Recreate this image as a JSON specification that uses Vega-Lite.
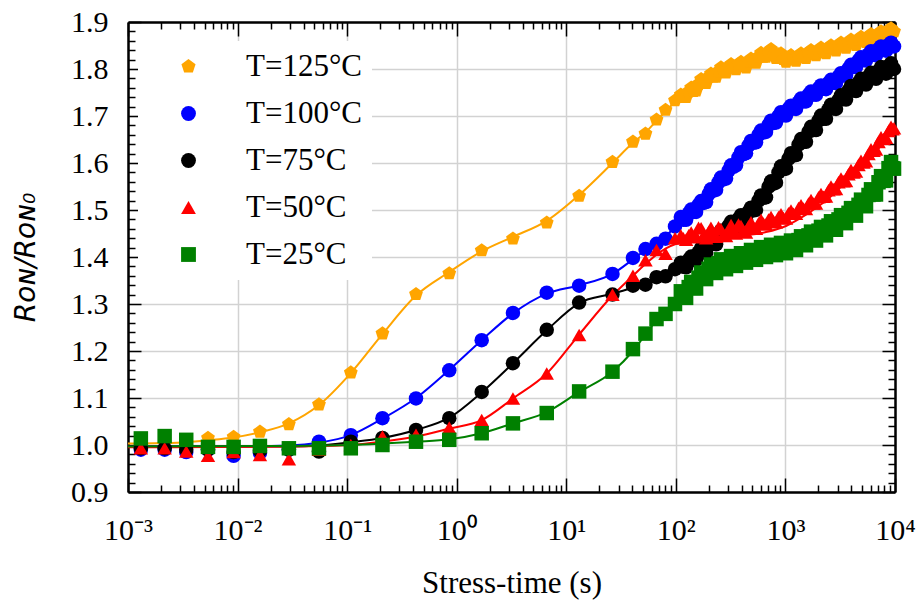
{
  "$schema": "https://vega.github.io/schema/vega-lite/v6.json",
  "autosize": "none",
  "width": 767,
  "height": 470,
  "padding": {"left": 128, "top": 22, "right": 27, "bottom": 111},
  "background": "white",
  "config": {"view": {"stroke": null}},
  "datasets": {
    "fits": [
      {"series":"T=125°C","time":0.001,"ratio":1.003},{"series":"T=125°C","time":0.002,"ratio":1.004},{"series":"T=125°C","time":0.0034,"ratio":1.006},{"series":"T=125°C","time":0.00537,"ratio":1.01},{"series":"T=125°C","time":0.0092,"ratio":1.016},{"series":"T=125°C","time":0.016,"ratio":1.027},{"series":"T=125°C","time":0.0294,"ratio":1.046},{"series":"T=125°C","time":0.0553,"ratio":1.085},{"series":"T=125°C","time":0.108,"ratio":1.153},{"series":"T=125°C","time":0.21,"ratio":1.236},{"series":"T=125°C","time":0.425,"ratio":1.318},{"series":"T=125°C","time":0.855,"ratio":1.368},{"series":"T=125°C","time":1.69,"ratio":1.412},{"series":"T=125°C","time":3.26,"ratio":1.443},{"series":"T=125°C","time":6.63,"ratio":1.477},{"series":"T=125°C","time":13.1,"ratio":1.532},{"series":"T=125°C","time":26.4,"ratio":1.6},{"series":"T=125°C","time":40.6,"ratio":1.643},{"series":"T=125°C","time":52.8,"ratio":1.665},{"series":"T=125°C","time":66.6,"ratio":1.69},{"series":"T=125°C","time":80.5,"ratio":1.71},{"series":"T=125°C","time":98.2,"ratio":1.73},{"series":"T=125°C","time":124,"ratio":1.745},{"series":"T=125°C","time":188,"ratio":1.775},{"series":"T=125°C","time":287,"ratio":1.797},{"series":"T=125°C","time":437,"ratio":1.81},{"series":"T=125°C","time":665,"ratio":1.822},{"series":"T=125°C","time":1012,"ratio":1.826},{"series":"T=125°C","time":1541,"ratio":1.832},{"series":"T=125°C","time":2346,"ratio":1.843},{"series":"T=125°C","time":3572,"ratio":1.855},{"series":"T=125°C","time":5438,"ratio":1.866},{"series":"T=125°C","time":8279,"ratio":1.877},{"series":"T=125°C","time":10000,"ratio":1.882},
      {"series":"T=100°C","time":0.001,"ratio":0.997},{"series":"T=100°C","time":0.0092,"ratio":0.997},{"series":"T=100°C","time":0.0294,"ratio":0.999},{"series":"T=100°C","time":0.0553,"ratio":1.005},{"series":"T=100°C","time":0.108,"ratio":1.021},{"series":"T=100°C","time":0.21,"ratio":1.056},{"series":"T=100°C","time":0.425,"ratio":1.1},{"series":"T=100°C","time":0.855,"ratio":1.16},{"series":"T=100°C","time":1.69,"ratio":1.223},{"series":"T=100°C","time":3.26,"ratio":1.28},{"series":"T=100°C","time":6.63,"ratio":1.322},{"series":"T=100°C","time":13.1,"ratio":1.34},{"series":"T=100°C","time":26.4,"ratio":1.364},{"series":"T=100°C","time":40.6,"ratio":1.395},{"series":"T=100°C","time":52.8,"ratio":1.415},{"series":"T=100°C","time":66.6,"ratio":1.43},{"series":"T=100°C","time":80.5,"ratio":1.445},{"series":"T=100°C","time":98.2,"ratio":1.462},{"series":"T=100°C","time":124,"ratio":1.485},{"series":"T=100°C","time":188,"ratio":1.52},{"series":"T=100°C","time":287,"ratio":1.57},{"series":"T=100°C","time":437,"ratio":1.625},{"series":"T=100°C","time":665,"ratio":1.672},{"series":"T=100°C","time":1012,"ratio":1.705},{"series":"T=100°C","time":1541,"ratio":1.737},{"series":"T=100°C","time":2346,"ratio":1.765},{"series":"T=100°C","time":3572,"ratio":1.79},{"series":"T=100°C","time":5438,"ratio":1.82},{"series":"T=100°C","time":8279,"ratio":1.845},{"series":"T=100°C","time":10000,"ratio":1.852},
      {"series":"T=75°C","time":0.001,"ratio":0.997},{"series":"T=75°C","time":0.0294,"ratio":0.997},{"series":"T=75°C","time":0.0553,"ratio":0.999},{"series":"T=75°C","time":0.108,"ratio":1.006},{"series":"T=75°C","time":0.21,"ratio":1.015},{"series":"T=75°C","time":0.425,"ratio":1.032},{"series":"T=75°C","time":0.855,"ratio":1.058},{"series":"T=75°C","time":1.69,"ratio":1.112},{"series":"T=75°C","time":3.26,"ratio":1.174},{"series":"T=75°C","time":6.63,"ratio":1.244},{"series":"T=75°C","time":13.1,"ratio":1.302},{"series":"T=75°C","time":26.4,"ratio":1.322},{"series":"T=75°C","time":40.6,"ratio":1.335},{"series":"T=75°C","time":52.8,"ratio":1.345},{"series":"T=75°C","time":66.6,"ratio":1.355},{"series":"T=75°C","time":80.5,"ratio":1.362},{"series":"T=75°C","time":98.2,"ratio":1.37},{"series":"T=75°C","time":124,"ratio":1.385},{"series":"T=75°C","time":188,"ratio":1.415},{"series":"T=75°C","time":287,"ratio":1.455},{"series":"T=75°C","time":437,"ratio":1.49},{"series":"T=75°C","time":665,"ratio":1.537},{"series":"T=75°C","time":1012,"ratio":1.598},{"series":"T=75°C","time":1541,"ratio":1.655},{"series":"T=75°C","time":2346,"ratio":1.704},{"series":"T=75°C","time":3572,"ratio":1.745},{"series":"T=75°C","time":5438,"ratio":1.777},{"series":"T=75°C","time":8279,"ratio":1.8},{"series":"T=75°C","time":10000,"ratio":1.807},
      {"series":"T=50°C","time":0.001,"ratio":0.995},{"series":"T=50°C","time":0.0294,"ratio":0.997},{"series":"T=50°C","time":0.108,"ratio":1.0},{"series":"T=50°C","time":0.21,"ratio":1.007},{"series":"T=50°C","time":0.425,"ratio":1.018},{"series":"T=50°C","time":0.855,"ratio":1.035},{"series":"T=50°C","time":1.69,"ratio":1.053},{"series":"T=50°C","time":3.26,"ratio":1.099},{"series":"T=50°C","time":6.63,"ratio":1.152},{"series":"T=50°C","time":13.1,"ratio":1.235},{"series":"T=50°C","time":26.4,"ratio":1.318},{"series":"T=50°C","time":40.6,"ratio":1.36},{"series":"T=50°C","time":52.8,"ratio":1.385},{"series":"T=50°C","time":66.6,"ratio":1.405},{"series":"T=50°C","time":80.5,"ratio":1.418},{"series":"T=50°C","time":98.2,"ratio":1.427},{"series":"T=50°C","time":124,"ratio":1.433},{"series":"T=50°C","time":188,"ratio":1.438},{"series":"T=50°C","time":287,"ratio":1.442},{"series":"T=50°C","time":437,"ratio":1.446},{"series":"T=50°C","time":665,"ratio":1.453},{"series":"T=50°C","time":1012,"ratio":1.466},{"series":"T=50°C","time":1541,"ratio":1.49},{"series":"T=50°C","time":2346,"ratio":1.52},{"series":"T=50°C","time":3572,"ratio":1.56},{"series":"T=50°C","time":5438,"ratio":1.6},{"series":"T=50°C","time":8279,"ratio":1.65},{"series":"T=50°C","time":10000,"ratio":1.675},
      {"series":"T=25°C","time":0.001,"ratio":0.997},{"series":"T=25°C","time":0.0294,"ratio":0.998},{"series":"T=25°C","time":0.108,"ratio":1.0},{"series":"T=25°C","time":0.21,"ratio":1.003},{"series":"T=25°C","time":0.425,"ratio":1.007},{"series":"T=25°C","time":0.855,"ratio":1.012},{"series":"T=25°C","time":1.69,"ratio":1.025},{"series":"T=25°C","time":3.26,"ratio":1.046},{"series":"T=25°C","time":6.63,"ratio":1.07},{"series":"T=25°C","time":13.1,"ratio":1.113},{"series":"T=25°C","time":26.4,"ratio":1.156},{"series":"T=25°C","time":40.6,"ratio":1.2},{"series":"T=25°C","time":52.8,"ratio":1.235},{"series":"T=25°C","time":66.6,"ratio":1.265},{"series":"T=25°C","time":80.5,"ratio":1.285},{"series":"T=25°C","time":98.2,"ratio":1.305},{"series":"T=25°C","time":124,"ratio":1.33},{"series":"T=25°C","time":188,"ratio":1.36},{"series":"T=25°C","time":287,"ratio":1.385},{"series":"T=25°C","time":437,"ratio":1.4},{"series":"T=25°C","time":665,"ratio":1.412},{"series":"T=25°C","time":1012,"ratio":1.42},{"series":"T=25°C","time":1541,"ratio":1.44},{"series":"T=25°C","time":2346,"ratio":1.455},{"series":"T=25°C","time":3572,"ratio":1.48},{"series":"T=25°C","time":5438,"ratio":1.51},{"series":"T=25°C","time":8279,"ratio":1.56},{"series":"T=25°C","time":10000,"ratio":1.59}
    ],
    "markers": [
      {"series":"T=125°C","time":0.00537,"ratio":1.015},{"series":"T=125°C","time":0.0092,"ratio":1.017},{"series":"T=125°C","time":0.016,"ratio":1.028},{"series":"T=125°C","time":0.0294,"ratio":1.044},{"series":"T=125°C","time":0.0553,"ratio":1.086},{"series":"T=125°C","time":0.108,"ratio":1.154},{"series":"T=125°C","time":0.21,"ratio":1.237},{"series":"T=125°C","time":0.425,"ratio":1.321},{"series":"T=125°C","time":0.855,"ratio":1.365},{"series":"T=125°C","time":1.69,"ratio":1.414},{"series":"T=125°C","time":3.26,"ratio":1.439},{"series":"T=125°C","time":6.63,"ratio":1.473},{"series":"T=125°C","time":13.1,"ratio":1.53},{"series":"T=125°C","time":26.4,"ratio":1.602},{"series":"T=125°C","time":40.6,"ratio":1.645},{"series":"T=125°C","time":52.8,"ratio":1.662},{"series":"T=125°C","time":66.6,"ratio":1.692},{"series":"T=125°C","time":80.5,"ratio":1.713},{"series":"T=125°C","time":98.2,"ratio":1.733},
      {"series":"T=125°C","time":111,"ratio":1.745},{"series":"T=125°C","time":124,"ratio":1.74},{"series":"T=125°C","time":138,"ratio":1.76},{"series":"T=125°C","time":153,"ratio":1.754},{"series":"T=125°C","time":170,"ratio":1.778},{"series":"T=125°C","time":189,"ratio":1.77},{"series":"T=125°C","time":209,"ratio":1.79},{"series":"T=125°C","time":233,"ratio":1.783},{"series":"T=125°C","time":258,"ratio":1.803},{"series":"T=125°C","time":287,"ratio":1.792},{"series":"T=125°C","time":319,"ratio":1.81},{"series":"T=125°C","time":354,"ratio":1.799},{"series":"T=125°C","time":393,"ratio":1.815},{"series":"T=125°C","time":437,"ratio":1.803},{"series":"T=125°C","time":485,"ratio":1.822},{"series":"T=125°C","time":539,"ratio":1.813},{"series":"T=125°C","time":599,"ratio":1.834},{"series":"T=125°C","time":665,"ratio":1.826},{"series":"T=125°C","time":739,"ratio":1.842},{"series":"T=125°C","time":820,"ratio":1.823},{"series":"T=125°C","time":911,"ratio":1.833},{"series":"T=125°C","time":1012,"ratio":1.815},{"series":"T=125°C","time":1124,"ratio":1.829},{"series":"T=125°C","time":1249,"ratio":1.817},{"series":"T=125°C","time":1388,"ratio":1.833},{"series":"T=125°C","time":1541,"ratio":1.823},{"series":"T=125°C","time":1712,"ratio":1.84},{"series":"T=125°C","time":1902,"ratio":1.829},{"series":"T=125°C","time":2112,"ratio":1.845},{"series":"T=125°C","time":2346,"ratio":1.833},{"series":"T=125°C","time":2606,"ratio":1.85},{"series":"T=125°C","time":2895,"ratio":1.839},{"series":"T=125°C","time":3216,"ratio":1.856},{"series":"T=125°C","time":3572,"ratio":1.845},{"series":"T=125°C","time":3967,"ratio":1.862},{"series":"T=125°C","time":4407,"ratio":1.851},{"series":"T=125°C","time":4895,"ratio":1.868},{"series":"T=125°C","time":5438,"ratio":1.857},{"series":"T=125°C","time":6040,"ratio":1.874},{"series":"T=125°C","time":6709,"ratio":1.863},{"series":"T=125°C","time":7455,"ratio":1.88},{"series":"T=125°C","time":8279,"ratio":1.871},{"series":"T=125°C","time":9200,"ratio":1.886},{"series":"T=125°C","time":9800,"ratio":1.88},
      {"series":"T=125°C","time":117,"ratio":1.74},{"series":"T=125°C","time":131,"ratio":1.752},{"series":"T=125°C","time":145,"ratio":1.753},{"series":"T=125°C","time":161,"ratio":1.768},{"series":"T=125°C","time":179,"ratio":1.771},{"series":"T=125°C","time":199,"ratio":1.783},{"series":"T=125°C","time":221,"ratio":1.784},{"series":"T=125°C","time":245,"ratio":1.795},{"series":"T=125°C","time":272,"ratio":1.795},{"series":"T=125°C","time":303,"ratio":1.805},{"series":"T=125°C","time":336,"ratio":1.802},{"series":"T=125°C","time":373,"ratio":1.81},{"series":"T=125°C","time":414,"ratio":1.806},{"series":"T=125°C","time":460,"ratio":1.816},{"series":"T=125°C","time":511,"ratio":1.815},{"series":"T=125°C","time":568,"ratio":1.826},{"series":"T=125°C","time":631,"ratio":1.826},{"series":"T=125°C","time":701,"ratio":1.837},{"series":"T=125°C","time":778,"ratio":1.83},{"series":"T=125°C","time":864,"ratio":1.831},{"series":"T=125°C","time":960,"ratio":1.821},{"series":"T=125°C","time":1066,"ratio":1.825},{"series":"T=125°C","time":1185,"ratio":1.82},{"series":"T=125°C","time":1317,"ratio":1.828},{"series":"T=125°C","time":1462,"ratio":1.825},{"series":"T=125°C","time":1624,"ratio":1.835},{"series":"T=125°C","time":1805,"ratio":1.832},{"series":"T=125°C","time":2004,"ratio":1.84},{"series":"T=125°C","time":2226,"ratio":1.836},{"series":"T=125°C","time":2473,"ratio":1.845},{"series":"T=125°C","time":2747,"ratio":1.842},{"series":"T=125°C","time":3051,"ratio":1.851},{"series":"T=125°C","time":3390,"ratio":1.848},{"series":"T=125°C","time":3764,"ratio":1.857},{"series":"T=125°C","time":4181,"ratio":1.854},{"series":"T=125°C","time":4645,"ratio":1.863},{"series":"T=125°C","time":5159,"ratio":1.86},{"series":"T=125°C","time":5731,"ratio":1.869},{"series":"T=125°C","time":6366,"ratio":1.866},{"series":"T=125°C","time":7072,"ratio":1.875},{"series":"T=125°C","time":7856,"ratio":1.873},{"series":"T=125°C","time":8727,"ratio":1.883},{"series":"T=125°C","time":9495,"ratio":1.88},
      {"series":"T=100°C","time":0.00131,"ratio":0.99},{"series":"T=100°C","time":0.00216,"ratio":0.99},{"series":"T=100°C","time":0.0034,"ratio":0.985},{"series":"T=100°C","time":0.00537,"ratio":0.99},{"series":"T=100°C","time":0.0092,"ratio":0.977},{"series":"T=100°C","time":0.016,"ratio":0.983},{"series":"T=100°C","time":0.0294,"ratio":0.99},{"series":"T=100°C","time":0.0553,"ratio":1.007},{"series":"T=100°C","time":0.108,"ratio":1.021},{"series":"T=100°C","time":0.21,"ratio":1.057},{"series":"T=100°C","time":0.425,"ratio":1.099},{"series":"T=100°C","time":0.855,"ratio":1.159},{"series":"T=100°C","time":1.69,"ratio":1.223},{"series":"T=100°C","time":3.26,"ratio":1.281},{"series":"T=100°C","time":6.63,"ratio":1.324},{"series":"T=100°C","time":13.1,"ratio":1.339},{"series":"T=100°C","time":26.4,"ratio":1.364},{"series":"T=100°C","time":40.6,"ratio":1.398},{"series":"T=100°C","time":52.8,"ratio":1.417},{"series":"T=100°C","time":66.6,"ratio":1.428},{"series":"T=100°C","time":80.5,"ratio":1.439},{"series":"T=100°C","time":98.2,"ratio":1.465},
      {"series":"T=100°C","time":111,"ratio":1.485},{"series":"T=100°C","time":124,"ratio":1.479},{"series":"T=100°C","time":138,"ratio":1.501},{"series":"T=100°C","time":153,"ratio":1.496},{"series":"T=100°C","time":170,"ratio":1.519},{"series":"T=100°C","time":189,"ratio":1.517},{"series":"T=100°C","time":209,"ratio":1.544},{"series":"T=100°C","time":233,"ratio":1.543},{"series":"T=100°C","time":258,"ratio":1.569},{"series":"T=100°C","time":287,"ratio":1.567},{"series":"T=100°C","time":319,"ratio":1.595},{"series":"T=100°C","time":354,"ratio":1.595},{"series":"T=100°C","time":393,"ratio":1.623},{"series":"T=100°C","time":437,"ratio":1.621},{"series":"T=100°C","time":485,"ratio":1.647},{"series":"T=100°C","time":539,"ratio":1.644},{"series":"T=100°C","time":599,"ratio":1.669},{"series":"T=100°C","time":665,"ratio":1.666},{"series":"T=100°C","time":739,"ratio":1.69},{"series":"T=100°C","time":820,"ratio":1.686},{"series":"T=100°C","time":911,"ratio":1.708},{"series":"T=100°C","time":1012,"ratio":1.701},{"series":"T=100°C","time":1124,"ratio":1.722},{"series":"T=100°C","time":1249,"ratio":1.715},{"series":"T=100°C","time":1388,"ratio":1.737},{"series":"T=100°C","time":1541,"ratio":1.731},{"series":"T=100°C","time":1712,"ratio":1.752},{"series":"T=100°C","time":1902,"ratio":1.745},{"series":"T=100°C","time":2112,"ratio":1.765},{"series":"T=100°C","time":2346,"ratio":1.757},{"series":"T=100°C","time":2606,"ratio":1.777},{"series":"T=100°C","time":2895,"ratio":1.77},{"series":"T=100°C","time":3216,"ratio":1.791},{"series":"T=100°C","time":3572,"ratio":1.786},{"series":"T=100°C","time":3967,"ratio":1.809},{"series":"T=100°C","time":4407,"ratio":1.804},{"series":"T=100°C","time":4895,"ratio":1.825},{"series":"T=100°C","time":5438,"ratio":1.818},{"series":"T=100°C","time":6040,"ratio":1.838},{"series":"T=100°C","time":6709,"ratio":1.829},{"series":"T=100°C","time":7455,"ratio":1.848},{"series":"T=100°C","time":8279,"ratio":1.839},{"series":"T=100°C","time":9200,"ratio":1.856},{"series":"T=100°C","time":9800,"ratio":1.848},
      {"series":"T=100°C","time":117,"ratio":1.479},{"series":"T=100°C","time":131,"ratio":1.493},{"series":"T=100°C","time":145,"ratio":1.496},{"series":"T=100°C","time":161,"ratio":1.511},{"series":"T=100°C","time":179,"ratio":1.515},{"series":"T=100°C","time":199,"ratio":1.534},{"series":"T=100°C","time":221,"ratio":1.541},{"series":"T=100°C","time":245,"ratio":1.559},{"series":"T=100°C","time":272,"ratio":1.565},{"series":"T=100°C","time":303,"ratio":1.584},{"series":"T=100°C","time":336,"ratio":1.592},{"series":"T=100°C","time":373,"ratio":1.612},{"series":"T=100°C","time":414,"ratio":1.619},{"series":"T=100°C","time":460,"ratio":1.637},{"series":"T=100°C","time":511,"ratio":1.643},{"series":"T=100°C","time":568,"ratio":1.66},{"series":"T=100°C","time":631,"ratio":1.665},{"series":"T=100°C","time":701,"ratio":1.681},{"series":"T=100°C","time":778,"ratio":1.685},{"series":"T=100°C","time":864,"ratio":1.7},{"series":"T=100°C","time":960,"ratio":1.702},{"series":"T=100°C","time":1066,"ratio":1.715},{"series":"T=100°C","time":1185,"ratio":1.716},{"series":"T=100°C","time":1317,"ratio":1.729},{"series":"T=100°C","time":1462,"ratio":1.731},{"series":"T=100°C","time":1624,"ratio":1.745},{"series":"T=100°C","time":1805,"ratio":1.746},{"series":"T=100°C","time":2004,"ratio":1.758},{"series":"T=100°C","time":2226,"ratio":1.758},{"series":"T=100°C","time":2473,"ratio":1.77},{"series":"T=100°C","time":2747,"ratio":1.771},{"series":"T=100°C","time":3051,"ratio":1.784},{"series":"T=100°C","time":3390,"ratio":1.786},{"series":"T=100°C","time":3764,"ratio":1.801},{"series":"T=100°C","time":4181,"ratio":1.804},{"series":"T=100°C","time":4645,"ratio":1.818},{"series":"T=100°C","time":5159,"ratio":1.819},{"series":"T=100°C","time":5731,"ratio":1.831},{"series":"T=100°C","time":6366,"ratio":1.831},{"series":"T=100°C","time":7072,"ratio":1.842},{"series":"T=100°C","time":7856,"ratio":1.841},{"series":"T=100°C","time":8727,"ratio":1.851},{"series":"T=100°C","time":9495,"ratio":1.849},
      {"series":"T=75°C","time":0.00131,"ratio":0.993},{"series":"T=75°C","time":0.00216,"ratio":0.993},{"series":"T=75°C","time":0.0034,"ratio":0.99},{"series":"T=75°C","time":0.00537,"ratio":0.99},{"series":"T=75°C","time":0.0092,"ratio":0.985},{"series":"T=75°C","time":0.016,"ratio":0.988},{"series":"T=75°C","time":0.0294,"ratio":0.99},{"series":"T=75°C","time":0.0553,"ratio":0.986},{"series":"T=75°C","time":0.108,"ratio":1.007},{"series":"T=75°C","time":0.21,"ratio":1.015},{"series":"T=75°C","time":0.425,"ratio":1.032},{"series":"T=75°C","time":0.855,"ratio":1.057},{"series":"T=75°C","time":1.69,"ratio":1.113},{"series":"T=75°C","time":3.26,"ratio":1.174},{"series":"T=75°C","time":6.63,"ratio":1.245},{"series":"T=75°C","time":13.1,"ratio":1.303},{"series":"T=75°C","time":26.4,"ratio":1.32},{"series":"T=75°C","time":40.6,"ratio":1.339},{"series":"T=75°C","time":52.8,"ratio":1.341},{"series":"T=75°C","time":66.6,"ratio":1.357},{"series":"T=75°C","time":80.5,"ratio":1.359},{"series":"T=75°C","time":98.2,"ratio":1.374},
      {"series":"T=75°C","time":111,"ratio":1.388},{"series":"T=75°C","time":124,"ratio":1.378},{"series":"T=75°C","time":138,"ratio":1.401},{"series":"T=75°C","time":153,"ratio":1.394},{"series":"T=75°C","time":170,"ratio":1.419},{"series":"T=75°C","time":189,"ratio":1.409},{"series":"T=75°C","time":209,"ratio":1.436},{"series":"T=75°C","time":233,"ratio":1.427},{"series":"T=75°C","time":258,"ratio":1.456},{"series":"T=75°C","time":287,"ratio":1.449},{"series":"T=75°C","time":319,"ratio":1.475},{"series":"T=75°C","time":354,"ratio":1.464},{"series":"T=75°C","time":393,"ratio":1.489},{"series":"T=75°C","time":437,"ratio":1.479},{"series":"T=75°C","time":485,"ratio":1.505},{"series":"T=75°C","time":539,"ratio":1.5},{"series":"T=75°C","time":599,"ratio":1.531},{"series":"T=75°C","time":665,"ratio":1.527},{"series":"T=75°C","time":739,"ratio":1.561},{"series":"T=75°C","time":820,"ratio":1.558},{"series":"T=75°C","time":911,"ratio":1.593},{"series":"T=75°C","time":1012,"ratio":1.588},{"series":"T=75°C","time":1124,"ratio":1.621},{"series":"T=75°C","time":1249,"ratio":1.617},{"series":"T=75°C","time":1388,"ratio":1.651},{"series":"T=75°C","time":1541,"ratio":1.645},{"series":"T=75°C","time":1712,"ratio":1.677},{"series":"T=75°C","time":1902,"ratio":1.67},{"series":"T=75°C","time":2112,"ratio":1.701},{"series":"T=75°C","time":2346,"ratio":1.694},{"series":"T=75°C","time":2606,"ratio":1.724},{"series":"T=75°C","time":2895,"ratio":1.715},{"series":"T=75°C","time":3216,"ratio":1.744},{"series":"T=75°C","time":3572,"ratio":1.735},{"series":"T=75°C","time":3967,"ratio":1.764},{"series":"T=75°C","time":4407,"ratio":1.753},{"series":"T=75°C","time":4895,"ratio":1.779},{"series":"T=75°C","time":5438,"ratio":1.767},{"series":"T=75°C","time":6040,"ratio":1.792},{"series":"T=75°C","time":6709,"ratio":1.779},{"series":"T=75°C","time":7455,"ratio":1.804},{"series":"T=75°C","time":8279,"ratio":1.79},{"series":"T=75°C","time":9200,"ratio":1.812},{"series":"T=75°C","time":9800,"ratio":1.8},
      {"series":"T=75°C","time":117,"ratio":1.379},{"series":"T=75°C","time":131,"ratio":1.394},{"series":"T=75°C","time":145,"ratio":1.394},{"series":"T=75°C","time":161,"ratio":1.41},{"series":"T=75°C","time":179,"ratio":1.41},{"series":"T=75°C","time":199,"ratio":1.427},{"series":"T=75°C","time":221,"ratio":1.428},{"series":"T=75°C","time":245,"ratio":1.446},{"series":"T=75°C","time":272,"ratio":1.449},{"series":"T=75°C","time":303,"ratio":1.466},{"series":"T=75°C","time":336,"ratio":1.466},{"series":"T=75°C","time":373,"ratio":1.481},{"series":"T=75°C","time":414,"ratio":1.48},{"series":"T=75°C","time":460,"ratio":1.496},{"series":"T=75°C","time":511,"ratio":1.499},{"series":"T=75°C","time":568,"ratio":1.52},{"series":"T=75°C","time":631,"ratio":1.526},{"series":"T=75°C","time":701,"ratio":1.549},{"series":"T=75°C","time":778,"ratio":1.556},{"series":"T=75°C","time":864,"ratio":1.58},{"series":"T=75°C","time":960,"ratio":1.587},{"series":"T=75°C","time":1066,"ratio":1.609},{"series":"T=75°C","time":1185,"ratio":1.616},{"series":"T=75°C","time":1317,"ratio":1.639},{"series":"T=75°C","time":1462,"ratio":1.645},{"series":"T=75°C","time":1624,"ratio":1.666},{"series":"T=75°C","time":1805,"ratio":1.67},{"series":"T=75°C","time":2004,"ratio":1.69},{"series":"T=75°C","time":2226,"ratio":1.694},{"series":"T=75°C","time":2473,"ratio":1.714},{"series":"T=75°C","time":2747,"ratio":1.716},{"series":"T=75°C","time":3051,"ratio":1.734},{"series":"T=75°C","time":3390,"ratio":1.736},{"series":"T=75°C","time":3764,"ratio":1.754},{"series":"T=75°C","time":4181,"ratio":1.755},{"series":"T=75°C","time":4645,"ratio":1.771},{"series":"T=75°C","time":5159,"ratio":1.77},{"series":"T=75°C","time":5731,"ratio":1.784},{"series":"T=75°C","time":6366,"ratio":1.782},{"series":"T=75°C","time":7072,"ratio":1.796},{"series":"T=75°C","time":7856,"ratio":1.794},{"series":"T=75°C","time":8727,"ratio":1.806},{"series":"T=75°C","time":9495,"ratio":1.802},
      {"series":"T=50°C","time":0.00131,"ratio":0.993},{"series":"T=50°C","time":0.00216,"ratio":0.993},{"series":"T=50°C","time":0.0034,"ratio":0.986},{"series":"T=50°C","time":0.00537,"ratio":0.977},{"series":"T=50°C","time":0.0092,"ratio":0.985},{"series":"T=50°C","time":0.016,"ratio":0.979},{"series":"T=50°C","time":0.0294,"ratio":0.97},{"series":"T=50°C","time":0.0553,"ratio":0.99},{"series":"T=50°C","time":0.108,"ratio":1.0},{"series":"T=50°C","time":0.21,"ratio":1.018},{"series":"T=50°C","time":0.425,"ratio":1.022},{"series":"T=50°C","time":0.855,"ratio":1.037},{"series":"T=50°C","time":1.69,"ratio":1.053},{"series":"T=50°C","time":3.26,"ratio":1.099},{"series":"T=50°C","time":6.63,"ratio":1.152},{"series":"T=50°C","time":13.1,"ratio":1.234},{"series":"T=50°C","time":26.4,"ratio":1.32},{"series":"T=50°C","time":40.6,"ratio":1.36},{"series":"T=50°C","time":52.8,"ratio":1.393},{"series":"T=50°C","time":66.6,"ratio":1.415},{"series":"T=50°C","time":80.5,"ratio":1.407},{"series":"T=50°C","time":98.2,"ratio":1.44},
      {"series":"T=50°C","time":111,"ratio":1.446},{"series":"T=50°C","time":124,"ratio":1.437},{"series":"T=50°C","time":138,"ratio":1.452},{"series":"T=50°C","time":153,"ratio":1.444},{"series":"T=50°C","time":170,"ratio":1.461},{"series":"T=50°C","time":189,"ratio":1.44},{"series":"T=50°C","time":209,"ratio":1.462},{"series":"T=50°C","time":233,"ratio":1.443},{"series":"T=50°C","time":258,"ratio":1.459},{"series":"T=50°C","time":287,"ratio":1.445},{"series":"T=50°C","time":319,"ratio":1.468},{"series":"T=50°C","time":354,"ratio":1.45},{"series":"T=50°C","time":393,"ratio":1.466},{"series":"T=50°C","time":437,"ratio":1.452},{"series":"T=50°C","time":485,"ratio":1.474},{"series":"T=50°C","time":539,"ratio":1.46},{"series":"T=50°C","time":599,"ratio":1.479},{"series":"T=50°C","time":665,"ratio":1.469},{"series":"T=50°C","time":739,"ratio":1.485},{"series":"T=50°C","time":820,"ratio":1.474},{"series":"T=50°C","time":911,"ratio":1.491},{"series":"T=50°C","time":1012,"ratio":1.482},{"series":"T=50°C","time":1124,"ratio":1.499},{"series":"T=50°C","time":1249,"ratio":1.492},{"series":"T=50°C","time":1388,"ratio":1.51},{"series":"T=50°C","time":1541,"ratio":1.502},{"series":"T=50°C","time":1712,"ratio":1.521},{"series":"T=50°C","time":1902,"ratio":1.514},{"series":"T=50°C","time":2112,"ratio":1.534},{"series":"T=50°C","time":2346,"ratio":1.529},{"series":"T=50°C","time":2606,"ratio":1.55},{"series":"T=50°C","time":2895,"ratio":1.545},{"series":"T=50°C","time":3216,"ratio":1.567},{"series":"T=50°C","time":3572,"ratio":1.562},{"series":"T=50°C","time":3967,"ratio":1.585},{"series":"T=50°C","time":4407,"ratio":1.582},{"series":"T=50°C","time":4895,"ratio":1.605},{"series":"T=50°C","time":5438,"ratio":1.604},{"series":"T=50°C","time":6040,"ratio":1.629},{"series":"T=50°C","time":6709,"ratio":1.629},{"series":"T=50°C","time":7455,"ratio":1.655},{"series":"T=50°C","time":8279,"ratio":1.654},{"series":"T=50°C","time":9200,"ratio":1.677},{"series":"T=50°C","time":9800,"ratio":1.674},
      {"series":"T=50°C","time":117,"ratio":1.44},{"series":"T=50°C","time":131,"ratio":1.446},{"series":"T=50°C","time":145,"ratio":1.442},{"series":"T=50°C","time":161,"ratio":1.462},{"series":"T=50°C","time":179,"ratio":1.446},{"series":"T=50°C","time":199,"ratio":1.453},{"series":"T=50°C","time":221,"ratio":1.449},{"series":"T=50°C","time":245,"ratio":1.463},{"series":"T=50°C","time":272,"ratio":1.448},{"series":"T=50°C","time":303,"ratio":1.456},{"series":"T=50°C","time":336,"ratio":1.453},{"series":"T=50°C","time":373,"ratio":1.469},{"series":"T=50°C","time":414,"ratio":1.456},{"series":"T=50°C","time":460,"ratio":1.465},{"series":"T=50°C","time":511,"ratio":1.463},{"series":"T=50°C","time":568,"ratio":1.472},{"series":"T=50°C","time":631,"ratio":1.471},{"series":"T=50°C","time":701,"ratio":1.48},{"series":"T=50°C","time":778,"ratio":1.476},{"series":"T=50°C","time":864,"ratio":1.485},{"series":"T=50°C","time":960,"ratio":1.483},{"series":"T=50°C","time":1066,"ratio":1.493},{"series":"T=50°C","time":1185,"ratio":1.492},{"series":"T=50°C","time":1317,"ratio":1.504},{"series":"T=50°C","time":1462,"ratio":1.503},{"series":"T=50°C","time":1624,"ratio":1.514},{"series":"T=50°C","time":1805,"ratio":1.514},{"series":"T=50°C","time":2004,"ratio":1.527},{"series":"T=50°C","time":2226,"ratio":1.528},{"series":"T=50°C","time":2473,"ratio":1.542},{"series":"T=50°C","time":2747,"ratio":1.544},{"series":"T=50°C","time":3051,"ratio":1.559},{"series":"T=50°C","time":3390,"ratio":1.561},{"series":"T=50°C","time":3764,"ratio":1.576},{"series":"T=50°C","time":4181,"ratio":1.58},{"series":"T=50°C","time":4645,"ratio":1.596},{"series":"T=50°C","time":5159,"ratio":1.601},{"series":"T=50°C","time":5731,"ratio":1.619},{"series":"T=50°C","time":6366,"ratio":1.626},{"series":"T=50°C","time":7072,"ratio":1.645},{"series":"T=50°C","time":7856,"ratio":1.651},{"series":"T=50°C","time":8727,"ratio":1.668},{"series":"T=50°C","time":9495,"ratio":1.672},
      {"series":"T=25°C","time":0.00131,"ratio":1.014},{"series":"T=25°C","time":0.00216,"ratio":1.019},{"series":"T=25°C","time":0.0034,"ratio":1.011},{"series":"T=25°C","time":0.00537,"ratio":0.996},{"series":"T=25°C","time":0.0092,"ratio":0.996},{"series":"T=25°C","time":0.016,"ratio":0.998},{"series":"T=25°C","time":0.0294,"ratio":0.993},{"series":"T=25°C","time":0.0553,"ratio":0.993},{"series":"T=25°C","time":0.108,"ratio":0.993},{"series":"T=25°C","time":0.21,"ratio":1.0},{"series":"T=25°C","time":0.425,"ratio":1.007},{"series":"T=25°C","time":0.855,"ratio":1.011},{"series":"T=25°C","time":1.69,"ratio":1.025},{"series":"T=25°C","time":3.26,"ratio":1.046},{"series":"T=25°C","time":6.63,"ratio":1.068},{"series":"T=25°C","time":13.1,"ratio":1.114},{"series":"T=25°C","time":26.4,"ratio":1.156},{"series":"T=25°C","time":40.6,"ratio":1.204},{"series":"T=25°C","time":52.8,"ratio":1.237},{"series":"T=25°C","time":66.6,"ratio":1.268},{"series":"T=25°C","time":80.5,"ratio":1.279},{"series":"T=25°C","time":98.2,"ratio":1.3},
      {"series":"T=25°C","time":111,"ratio":1.327},{"series":"T=25°C","time":124,"ratio":1.313},{"series":"T=25°C","time":138,"ratio":1.347},{"series":"T=25°C","time":153,"ratio":1.333},{"series":"T=25°C","time":170,"ratio":1.367},{"series":"T=25°C","time":189,"ratio":1.353},{"series":"T=25°C","time":209,"ratio":1.384},{"series":"T=25°C","time":233,"ratio":1.366},{"series":"T=25°C","time":258,"ratio":1.395},{"series":"T=25°C","time":287,"ratio":1.374},{"series":"T=25°C","time":319,"ratio":1.402},{"series":"T=25°C","time":354,"ratio":1.381},{"series":"T=25°C","time":393,"ratio":1.408},{"series":"T=25°C","time":437,"ratio":1.388},{"series":"T=25°C","time":485,"ratio":1.415},{"series":"T=25°C","time":539,"ratio":1.394},{"series":"T=25°C","time":599,"ratio":1.421},{"series":"T=25°C","time":665,"ratio":1.4},{"series":"T=25°C","time":739,"ratio":1.426},{"series":"T=25°C","time":820,"ratio":1.404},{"series":"T=25°C","time":911,"ratio":1.43},{"series":"T=25°C","time":1012,"ratio":1.408},{"series":"T=25°C","time":1124,"ratio":1.435},{"series":"T=25°C","time":1249,"ratio":1.415},{"series":"T=25°C","time":1388,"ratio":1.444},{"series":"T=25°C","time":1541,"ratio":1.425},{"series":"T=25°C","time":1712,"ratio":1.454},{"series":"T=25°C","time":1902,"ratio":1.435},{"series":"T=25°C","time":2112,"ratio":1.464},{"series":"T=25°C","time":2346,"ratio":1.446},{"series":"T=25°C","time":2606,"ratio":1.476},{"series":"T=25°C","time":2895,"ratio":1.458},{"series":"T=25°C","time":3216,"ratio":1.489},{"series":"T=25°C","time":3572,"ratio":1.472},{"series":"T=25°C","time":3967,"ratio":1.504},{"series":"T=25°C","time":4407,"ratio":1.488},{"series":"T=25°C","time":4895,"ratio":1.522},{"series":"T=25°C","time":5438,"ratio":1.508},{"series":"T=25°C","time":6040,"ratio":1.544},{"series":"T=25°C","time":6709,"ratio":1.533},{"series":"T=25°C","time":7455,"ratio":1.572},{"series":"T=25°C","time":8279,"ratio":1.563},{"series":"T=25°C","time":9200,"ratio":1.602},{"series":"T=25°C","time":9800,"ratio":1.588},
      {"series":"T=25°C","time":117,"ratio":1.314},{"series":"T=25°C","time":131,"ratio":1.336},{"series":"T=25°C","time":145,"ratio":1.334},{"series":"T=25°C","time":161,"ratio":1.356},{"series":"T=25°C","time":179,"ratio":1.354},{"series":"T=25°C","time":199,"ratio":1.375},{"series":"T=25°C","time":221,"ratio":1.369},{"series":"T=25°C","time":245,"ratio":1.387},{"series":"T=25°C","time":272,"ratio":1.379},{"series":"T=25°C","time":303,"ratio":1.394},{"series":"T=25°C","time":336,"ratio":1.386},{"series":"T=25°C","time":373,"ratio":1.401},{"series":"T=25°C","time":414,"ratio":1.392},{"series":"T=25°C","time":460,"ratio":1.408},{"series":"T=25°C","time":511,"ratio":1.399},{"series":"T=25°C","time":568,"ratio":1.414},{"series":"T=25°C","time":631,"ratio":1.405},{"series":"T=25°C","time":701,"ratio":1.419},{"series":"T=25°C","time":778,"ratio":1.409},{"series":"T=25°C","time":864,"ratio":1.423},{"series":"T=25°C","time":960,"ratio":1.413},{"series":"T=25°C","time":1066,"ratio":1.428},{"series":"T=25°C","time":1185,"ratio":1.419},{"series":"T=25°C","time":1317,"ratio":1.436},{"series":"T=25°C","time":1462,"ratio":1.429},{"series":"T=25°C","time":1624,"ratio":1.446},{"series":"T=25°C","time":1805,"ratio":1.439},{"series":"T=25°C","time":2004,"ratio":1.456},{"series":"T=25°C","time":2226,"ratio":1.449},{"series":"T=25°C","time":2473,"ratio":1.467},{"series":"T=25°C","time":2747,"ratio":1.461},{"series":"T=25°C","time":3051,"ratio":1.48},{"series":"T=25°C","time":3390,"ratio":1.475},{"series":"T=25°C","time":3764,"ratio":1.494},{"series":"T=25°C","time":4181,"ratio":1.49},{"series":"T=25°C","time":4645,"ratio":1.511},{"series":"T=25°C","time":5159,"ratio":1.509},{"series":"T=25°C","time":5731,"ratio":1.532},{"series":"T=25°C","time":6366,"ratio":1.533},{"series":"T=25°C","time":7072,"ratio":1.559},{"series":"T=25°C","time":7856,"ratio":1.562},{"series":"T=25°C","time":8727,"ratio":1.589},{"series":"T=25°C","time":9495,"ratio":1.589}
    ]
  },
  "layer": [
    {
      "data": {"name": "fits"},
      "mark": {"type": "line", "strokeWidth": 2, "interpolate": "monotone"},
      "encoding": {
        "x": {"field": "time", "type": "quantitative",
          "scale": {"type": "log", "domain": [0.001, 10000], "nice": false},
          "axis": {
            "orient": "bottom",
            "values": [0.001,0.002,0.003,0.004,0.005,0.006,0.007,0.008,0.009,0.01,0.02,0.03,0.04,0.05,0.06,0.07,0.08,0.09,0.1,0.2,0.3,0.4,0.5,0.6,0.7,0.8,0.9,1,2,3,4,5,6,7,8,9,10,20,30,40,50,60,70,80,90,100,200,300,400,500,600,700,800,900,1000,2000,3000,4000,5000,6000,7000,8000,9000,10000],
            "labelExpr": "datum.value==0.001?'10⁻³':datum.value==0.01?'10⁻²':datum.value==0.1?'10⁻¹':datum.value==1?'10⁰':datum.value==10?'10¹':datum.value==100?'10²':datum.value==1000?'10³':datum.value==10000?'10⁴':''",
            "labelFont": "Liberation Serif", "labelFontSize": 30, "labelColor": "black",
            "labelPadding": 37, "labelOverlap": false, "labelFlush": false, "labelBound": false,
            "tickColor": "black", "tickWidth": 1.5,
            "tickSize": {"condition": {"test": "indexof([0.001,0.01,0.1,1,10,100,1000,10000], datum.value) >= 0", "value": -14}, "value": -7},
            "grid": true, "gridColor": "#d2d2d2", "gridWidth": 1.5,
            "gridOpacity": {"condition": {"test": "indexof([0.001,0.01,0.1,1,10,100,1000,10000], datum.value) >= 0", "value": 1}, "value": 0},
            "domainColor": "black", "domainWidth": 2.5,
            "title": "Stress-time (s)", "titleFont": "Liberation Serif", "titleFontSize": 31, "titleFontWeight": "normal", "titleColor": "black", "titlePadding": 16
          }
        },
        "y": {"field": "ratio", "type": "quantitative",
          "scale": {"domain": [0.9, 1.9], "nice": false, "zero": false},
          "axis": {
            "orient": "left",
            "values": [0.9,0.92,0.94,0.96,0.98,1,1.02,1.04,1.06,1.08,1.1,1.12,1.14,1.16,1.18,1.2,1.22,1.24,1.26,1.28,1.3,1.32,1.34,1.36,1.38,1.4,1.42,1.44,1.46,1.48,1.5,1.52,1.54,1.56,1.58,1.6,1.62,1.64,1.66,1.68,1.7,1.72,1.74,1.76,1.78,1.8,1.82,1.84,1.86,1.88,1.9],
            "labelExpr": "abs(datum.value*10-round(datum.value*10))<0.001 ? format(datum.value,'.1f') : ''",
            "labelFont": "Liberation Serif", "labelFontSize": 30, "labelColor": "black",
            "labelPadding": 33, "labelOverlap": false, "labelFlush": false, "labelBound": false,
            "tickColor": "black", "tickWidth": 1.5,
            "tickSize": {"condition": {"test": "abs(datum.value*10-round(datum.value*10))<0.001", "value": -13}, "value": -7},
            "grid": true, "gridColor": "#d2d2d2", "gridWidth": 1.5,
            "gridOpacity": {"condition": {"test": "abs(datum.value*10-round(datum.value*10))<0.001", "value": 1}, "value": 0},
            "domainColor": "black", "domainWidth": 2.5,
            "title": "Rᴏɴ/Rᴏɴ₀", "titleFont": "DejaVu Sans", "titleFontStyle": "italic", "titleFontSize": 28, "titleFontWeight": "normal", "titleColor": "black", "titlePadding": 30
          }
        },
        "color": {"field": "series", "type": "nominal",
          "scale": {"domain": ["T=125°C","T=100°C","T=75°C","T=50°C","T=25°C"], "range": ["#FFA500","#0000FF","#000000","#FF0000","#008000"]},
          "legend": null}
      }
    },
    {
      "data": {"name": "markers"},
      "mark": {"type": "point", "filled": true, "opacity": 1, "size": 210},
      "encoding": {
        "x": {"field": "time", "type": "quantitative",
          "scale": {"type": "log", "domain": [0.001, 10000], "nice": false},
          "axis": {
            "orient": "top",
            "values": [0.001,0.002,0.003,0.004,0.005,0.006,0.007,0.008,0.009,0.01,0.02,0.03,0.04,0.05,0.06,0.07,0.08,0.09,0.1,0.2,0.3,0.4,0.5,0.6,0.7,0.8,0.9,1,2,3,4,5,6,7,8,9,10,20,30,40,50,60,70,80,90,100,200,300,400,500,600,700,800,900,1000,2000,3000,4000,5000,6000,7000,8000,9000,10000],
            "labels": false, "grid": false, "title": null,
            "tickColor": "black", "tickWidth": 1.5,
            "tickSize": {"condition": {"test": "indexof([0.001,0.01,0.1,1,10,100,1000,10000], datum.value) >= 0", "value": -14}, "value": -7},
            "domainColor": "black", "domainWidth": 2.5
          }
        },
        "y": {"field": "ratio", "type": "quantitative",
          "scale": {"domain": [0.9, 1.9], "nice": false, "zero": false},
          "axis": {
            "orient": "right",
            "values": [0.9,0.92,0.94,0.96,0.98,1,1.02,1.04,1.06,1.08,1.1,1.12,1.14,1.16,1.18,1.2,1.22,1.24,1.26,1.28,1.3,1.32,1.34,1.36,1.38,1.4,1.42,1.44,1.46,1.48,1.5,1.52,1.54,1.56,1.58,1.6,1.62,1.64,1.66,1.68,1.7,1.72,1.74,1.76,1.78,1.8,1.82,1.84,1.86,1.88,1.9],
            "labels": false, "grid": false, "title": null,
            "tickColor": "black", "tickWidth": 1.5,
            "tickSize": {"condition": {"test": "abs(datum.value*10-round(datum.value*10))<0.001", "value": -13}, "value": -7},
            "domainColor": "black", "domainWidth": 2.5
          }
        },
        "color": {"field": "series", "type": "nominal",
          "scale": {"domain": ["T=125°C","T=100°C","T=75°C","T=50°C","T=25°C"], "range": ["#FFA500","#0000FF","#000000","#FF0000","#008000"]},
          "legend": {"orient": "none", "legendX": 10, "legendY": 19, "title": null, "fillColor": "white", "padding": 10,
            "symbolSize": 220, "symbolOffset": 25, "labelOffset": 42, "labelFont": "Liberation Serif", "labelFontSize": 31, "labelColor": "black",
            "rowPadding": 15, "symbolStrokeWidth": 0, "symbolOpacity": 1}
        },
        "shape": {"field": "series", "type": "nominal",
          "scale": {"domain": ["T=125°C","T=100°C","T=75°C","T=50°C","T=25°C"], "range": ["M0,-1L0.951,-0.309L0.588,0.809L-0.588,0.809L-0.951,-0.309Z","circle","circle","triangle-up","square"]},
          "legend": {"orient": "none", "legendX": 10, "legendY": 19, "title": null, "fillColor": "white", "padding": 10,
            "symbolSize": 220, "symbolOffset": 25, "labelOffset": 42, "labelFont": "Liberation Serif", "labelFontSize": 31, "labelColor": "black",
            "rowPadding": 15, "symbolStrokeWidth": 0, "symbolOpacity": 1}
        }
      }
    }
  ],
  "resolve": {"axis": {"x": "independent", "y": "independent"}, "legend": {"color": "independent", "shape": "independent"}}
}
